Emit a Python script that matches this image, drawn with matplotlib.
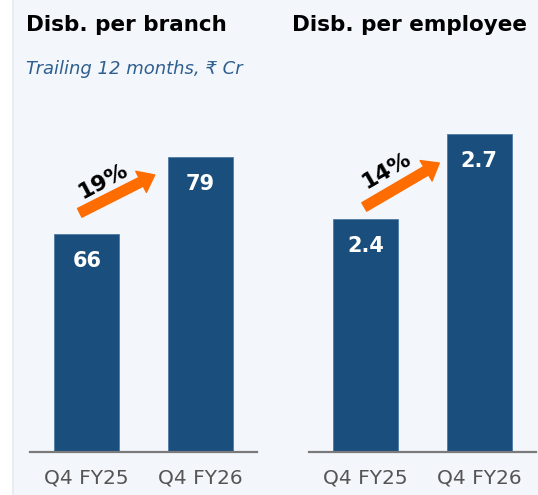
import matplotlib
matplotlib.use("Agg")
import matplotlib.pyplot as plt
from matplotlib.patches import Rectangle

categories = ["Q4 FY25", "Q4 FY26"]
branch_values = [66, 79]
employee_values = [2.4, 2.7]
branch_labels = ["66", "79"]
employee_labels = ["2.4", "2.7"]
branch_growth = "19%"
employee_growth = "14%"

W, H = 538, 495
BG = "#F3F6FB"
BAR = "#1A4E7C"
ORANGE = "#FF6C00"
plt.rcParams['font.family'] = ['DejaVu Sans']

fig = plt.figure(figsize=(W / 100, H / 100), dpi=100, facecolor=BG)

# left white strip
fig.patches.append(Rectangle((0, 0), 12 / W, 1, transform=fig.transFigure,
                             facecolor="white", edgecolor="none", zorder=0))
fig.patches.append(Rectangle((12 / W, 0), 2 / W, 1, transform=fig.transFigure,
                             facecolor="#E9ECF0", edgecolor="none", zorder=0))


def px_axes(x0, x1, ytop, ybot):
    return fig.add_axes([x0 / W, 1 - ybot / H, (x1 - x0) / W, (ybot - ytop) / H])


def style(ax):
    ax.set_facecolor("none")
    for s in ["top", "right", "left"]:
        ax.spines[s].set_visible(False)
    ax.spines["bottom"].set_color("#7A7A7A")
    ax.spines["bottom"].set_linewidth(1.6)
    ax.set_yticks([])
    ax.set_xlim(-0.5, 1.5)
    ax.set_xticks(range(len(categories)))
    ax.set_xticklabels(categories, fontsize=14.5, color="#555555")
    ax.tick_params(axis="x", length=0, pad=12)


def draw(ax, values, labels, ylim, growth, tail, tip, gpos, grot):
    style(ax)
    ax.set_ylim(*ylim)
    xs = list(range(len(values)))
    ax.bar(xs, values, width=0.57, color=BAR, edgecolor="#4F7BA5", linewidth=0.6)
    for x, v, lab in zip(xs, values, labels):
        ax.annotate(lab, (x, v), xytext=(0, -19), textcoords="offset points",
                    ha="center", va="center", color="white", fontsize=15,
                    fontweight="bold")
    ax.annotate("", xy=tip, xytext=tail,
                arrowprops=dict(arrowstyle="simple,head_width=1.7,head_length=1.1,tail_width=0.7",
                                mutation_scale=10, color=ORANGE, shrinkA=0, shrinkB=0))
    ax.text(gpos[0], gpos[1], growth, rotation=grot, ha="center", va="center",
            fontsize=16, fontweight="bold", color="black", rotation_mode="anchor")


ax1 = px_axes(30, 257, 100, 452)
draw(ax1, branch_values, branch_labels, (29.2, 29.2 + 352 / 5.92), branch_growth,
     tail=(-0.062, 69.6), tip=(0.599, 76.0), gpos=(0.141, 75.0), grot=28)

ax2 = px_axes(309, 536, 100, 452)
draw(ax2, employee_values, employee_labels, (1.578, 1.578 + 352 / 283.3), employee_growth,
     tail=(-0.013, 2.443), tip=(0.648, 2.598), gpos=(0.181, 2.57), grot=30)

fig.text(26 / W, 1 - 25 / H, "Disb. per branch", fontsize=15.5, fontweight="bold",
         color="black", ha="left", va="center")
fig.text(292 / W, 1 - 25 / H, "Disb. per employee", fontsize=15.5, fontweight="bold",
         color="black", ha="left", va="center")
fig.text(26 / W, 1 - 69 / H, "Trailing 12 months, \u20b9 Cr", fontsize=13, fontstyle="italic",
         color="#2F5F8F", ha="left", va="center")

fig.savefig("out.png", dpi=100, facecolor=BG)
